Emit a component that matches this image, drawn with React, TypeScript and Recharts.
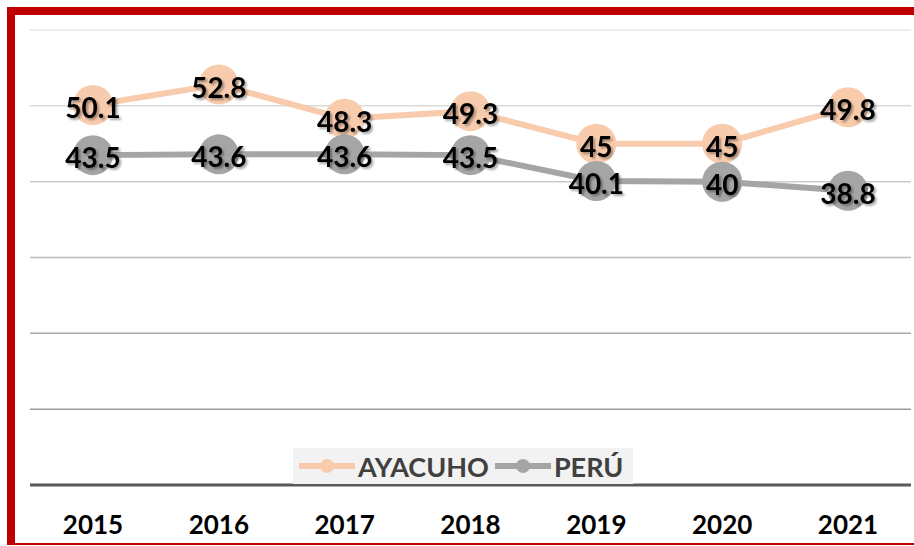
import { LineChart, Line, XAxis, YAxis, ReferenceLine, LabelList } from "recharts"

const years = ["2015", "2016", "2017", "2018", "2019", "2020", "2021"]
const ayacucho = [50.1, 52.8, 48.3, 49.3, 45, 45, 49.8]
const peru = [43.5, 43.6, 43.6, 43.5, 40.1, 40, 38.8]
const gridValues = [10, 20, 30, 40, 50, 60]
const gridColors = ["#9a9a9a", "#aaaaaa", "#bcbcbc", "#cccccc", "#d9d9d9", "#e6e6e6"]

const FONT = "Lato, 'Open Sans', sans-serif"
const ORANGE = "#F8CBAD"
const GRAY = "#A5A5A5"

const data = years.map((y, i) => ({ year: y, AYACUHO: ayacucho[i], PERU: peru[i] }))

// label with a soft shadow, like the office chart
const ShadowLabel = (props: any) => {
  const { x, y, value } = props
  return (
    <text x={x} y={y + 2} textAnchor="middle" dominantBaseline="central" filter="url(#lblShadow)"
      fontFamily={FONT} fontWeight={700} fontSize={28} fill="#000">{value}</text>
  )
}

const LegendBox = () => {
  const items = [
    { name: "AYACUHO", color: ORANGE },
    { name: "PERÚ", color: GRAY },
  ]
  return (
    <div style={{ display: "flex", alignItems: "center", background: "#f2f2f2", height: 36, padding: "0 4px 0 6px" }}>
      {items.map((it) => (
        <div key={it.name} style={{ display: "flex", alignItems: "center", marginRight: 6 }}>
          <svg width={56} height={20}>
            <line x1={0} y1={10} x2={56} y2={10} stroke={it.color} strokeWidth={6} />
            <circle cx={28} cy={10} r={7} fill={it.color} />
          </svg>
          <span style={{ fontFamily: FONT, fontWeight: 700, fontSize: 27, color: "#404040", marginLeft: 3 }}>{it.name}</span>
        </div>
      ))}
    </div>
  )
}

export default function App() {
  return (
    <div style={{ position: "absolute", left: 0, top: 0, width: 914, height: 546, overflow: "hidden", background: "#fff" }}>
      <svg width={0} height={0} style={{ position: "absolute" }}>
        <defs>
          <filter id="lblShadow" x="-20%" y="-30%" width="150%" height="170%">
            <feDropShadow dx={2} dy={2} stdDeviation={1.2} floodColor="#000" floodOpacity={0.35} />
          </filter>
        </defs>
      </svg>
      <div style={{
        position: "absolute", left: 7, top: 7, width: 1000, height: 538, boxSizing: "border-box",
        borderLeft: "8px solid #C00000", borderTop: "8px solid #C00000", borderBottom: "2px solid #C00000",
      }} />
      <div style={{ position: "absolute", left: 0, top: 0 }}>
        <LineChart width={914} height={546} data={data} margin={{ top: 30, right: 3, left: 30, bottom: 0 }}>
          <YAxis hide domain={[0, 60]} ticks={[0, 10, 20, 30, 40, 50, 60]} />
          {gridValues.map((v, i) => (
            <ReferenceLine key={v} y={v} stroke={gridColors[i]} strokeWidth={1.5} />
          ))}
          <XAxis dataKey="year" height={61} padding={{ left: 63, right: 63 }} axisLine={{ stroke: "#595959", strokeWidth: 3 }}
            tickLine={false} tickMargin={25} interval={0}
            tick={{ fontFamily: FONT, fontWeight: 700, fontSize: 26, fill: "#000" }} />
          <Line dataKey="AYACUHO" stroke={ORANGE} strokeWidth={6} dot={{ r: 20, fill: ORANGE, stroke: "none" }} activeDot={false} isAnimationActive={false}>
            <LabelList dataKey="AYACUHO" content={<ShadowLabel />} />
          </Line>
          <Line dataKey="PERU" name="PERÚ" stroke={GRAY} strokeWidth={6} dot={{ r: 20, fill: GRAY, stroke: "none" }} activeDot={false} isAnimationActive={false}>
            <LabelList dataKey="PERU" content={<ShadowLabel />} />
          </Line>
        </LineChart>
      </div>
      <div style={{ position: "absolute", left: 293, top: 448 }}>
        <LegendBox />
      </div>
    </div>
  )
}
